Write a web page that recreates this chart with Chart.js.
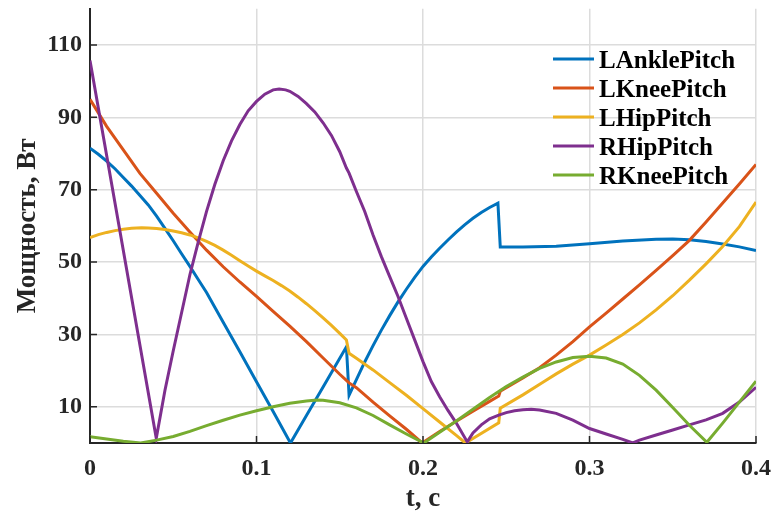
<!DOCTYPE html>
<html>
<head>
<meta charset="utf-8">
<script src="https://cdn.jsdelivr.net/npm/chart.js@4/dist/chart.umd.min.js"></script>
<style>
  html, body { margin: 0; padding: 0; background: #ffffff; }
  canvas { display: block; }
</style>
</head>
<body>
<canvas id="moshch" width="774" height="515"></canvas>
<script>
// names of the joints (legend order)
const seriesNames = ["LAnklePitch", "LKneePitch", "LHipPitch", "RHipPitch", "RKneePitch"];
const seriesColors = ["#0072BD", "#D95319", "#EDB120", "#7E2F8E", "#77AC30"];

const xTicks = [0, 0.1, 0.2, 0.3, 0.4];
const xTickLabels = ["0", "0.1", "0.2", "0.3", "0.4"];
const yTicks = [10, 30, 50, 70, 90, 110];
const yTickLabels = ["10", "30", "50", "70", "90", "110"];

// LAnklePitch
const tAnkle = [0, 0.005, 0.01, 0.015, 0.02, 0.025, 0.03, 0.035, 0.04, 0.045, 0.05, 0.055,
  0.06, 0.065, 0.07, 0.08, 0.09, 0.1, 0.11, 0.1204, 0.13, 0.14, 0.154, 0.1556, 0.16, 0.165,
  0.17, 0.175, 0.18, 0.185, 0.19, 0.195, 0.2, 0.205, 0.21, 0.215, 0.22, 0.225, 0.23, 0.235,
  0.24, 0.245, 0.2464, 0.26, 0.28, 0.3, 0.32, 0.34, 0.35, 0.36, 0.37, 0.38, 0.39, 0.4];
const pAnkle = [81.5, 79.8, 77.9, 75.8, 73.4, 71, 68.4, 65.8, 62.7, 59.3, 55.9, 52.3,
  48.8, 45.2, 41.6, 33.4, 25.2, 16.9, 8.7, 0, 7.6, 15.5, 26.6, 13.2, 17.5, 22.4,
  26.9, 31.2, 35.2, 39, 42.5, 45.8, 48.8, 51.4, 53.8, 56.1, 58.3, 60.3, 62.1, 63.7,
  65.1, 66.3, 54.2, 54.2, 54.4, 55.1, 55.8, 56.3, 56.4, 56.2, 55.7, 55, 54.2, 53.2];

// LKneePitch
const tKnee = [0, 0.01, 0.02, 0.03, 0.04, 0.05, 0.06, 0.07, 0.08, 0.09, 0.1, 0.11, 0.12,
  0.13, 0.14, 0.15, 0.154, 0.1556, 0.16, 0.17, 0.18, 0.19, 0.1995, 0.21, 0.22, 0.23, 0.24,
  0.2455, 0.2464, 0.26, 0.27, 0.28, 0.29, 0.3, 0.31, 0.32, 0.33, 0.34, 0.35, 0.36, 0.37,
  0.38, 0.39, 0.4];
const pKnee = [95, 87.5, 81, 74.5, 69, 63.5, 58.3, 53.3, 48.7, 44.5, 40.5, 36.4, 32.3,
  28, 23.5, 19, 17.3, 16.6, 15.3, 11.3, 7.5, 3.8, 0, 3.2, 6, 8.8, 11.5,
  13, 14.3, 18, 20.8, 24.3, 28, 32.1, 35.9, 39.8, 43.7, 47.7, 51.8, 56, 61.1,
  66.3, 71.6, 77];

// LHipPitch
const tHip = [0, 0.005, 0.01, 0.015, 0.02, 0.025, 0.031, 0.035, 0.04, 0.045, 0.05, 0.055,
  0.06, 0.065, 0.07, 0.075, 0.08, 0.085, 0.09, 0.095, 0.1, 0.105, 0.11, 0.115, 0.12, 0.125,
  0.13, 0.135, 0.14, 0.145, 0.15, 0.154, 0.1556, 0.16, 0.17, 0.18, 0.19, 0.2, 0.21, 0.22,
  0.2255, 0.2455, 0.2464, 0.26, 0.2725, 0.28, 0.29, 0.3, 0.31, 0.32, 0.33, 0.34, 0.35,
  0.36, 0.37, 0.38, 0.39, 0.4];
const pHip = [56.8, 57.6, 58.2, 58.7, 59.1, 59.35, 59.5, 59.45, 59.3, 59, 58.6, 58.1,
  57.5, 56.7, 55.7, 54.6, 53.3, 51.9, 50.4, 48.9, 47.5, 46.2, 44.9, 43.5, 42, 40.3,
  38.5, 36.6, 34.6, 32.5, 30.3, 28.5, 24.8, 23.4, 20.2, 16.7, 13.2, 9.5, 5.8, 2.1,
  0, 5.6, 9.6, 13.3, 16.9, 19.1, 21.8, 24.3, 27.1, 30, 33.2, 36.8, 40.7,
  45, 49.5, 54.3, 59.8, 66.6];

// RHipPitch
const tRHip = [0, 0.0398, 0.045, 0.05, 0.055, 0.06, 0.065, 0.07, 0.075, 0.08, 0.085, 0.09,
  0.095, 0.1, 0.105, 0.11, 0.1136, 0.1175, 0.12, 0.125, 0.13, 0.135, 0.14, 0.145, 0.15,
  0.154, 0.1556, 0.16, 0.165, 0.17, 0.175, 0.18, 0.185, 0.19, 0.195, 0.2, 0.205, 0.21,
  0.215, 0.22, 0.2266, 0.23, 0.235, 0.24, 0.2455, 0.25, 0.255, 0.26, 0.265, 0.27, 0.28,
  0.29, 0.3, 0.31, 0.32, 0.326, 0.33, 0.34, 0.35, 0.36, 0.37, 0.38, 0.39, 0.4];
const pRHip = [105.7, 1.3, 14.5, 25.5, 36, 46.5, 55.5, 64, 71.5, 78, 83.5, 88,
  91.8, 94.4, 96.4, 97.6, 97.8, 97.6, 97.2, 95.8, 93.8, 91.5, 88.5, 85, 80.5,
  76, 74.6, 69.5, 64, 57.5, 51.5, 46, 40.5, 34.5, 28.5, 22.5, 17, 12.8,
  9, 5.5, 0.3, 2.8, 5, 6.7, 7.7, 8.4, 8.9, 9.2, 9.3, 9.1, 8.2,
  6.3, 4, 2.5, 1, 0, 0.8, 2.2, 3.6, 5, 6.4, 8.2, 11.3, 15.4];

// RKneePitch
const tRKnee = [0, 0.01, 0.02, 0.0304, 0.04, 0.05, 0.06, 0.07, 0.08, 0.09, 0.1, 0.11, 0.12,
  0.13, 0.1364, 0.14, 0.15, 0.16, 0.17, 0.18, 0.19, 0.2005, 0.21, 0.22, 0.23, 0.24, 0.25,
  0.26, 0.27, 0.28, 0.29, 0.3, 0.31, 0.32, 0.33, 0.34, 0.35, 0.36, 0.3705, 0.38, 0.39, 0.4];
const pRKnee = [1.7, 1.1, 0.5, 0, 0.8, 1.8, 3.2, 4.8, 6.3, 7.7, 8.9, 10, 11,
  11.6, 11.9, 11.8, 11.1, 9.7, 7.6, 5, 2.5, 0, 3, 6.1, 9.3, 12.6, 15.6,
  18.2, 20.6, 22.4, 23.6, 24, 23.5, 21.8, 18.7, 14.6, 9.8, 4.9, 0.2, 5.5, 11.3, 17.1];

const seriesT = [tAnkle, tKnee, tHip, tRHip, tRKnee];
const seriesP = [pAnkle, pKnee, pHip, pRHip, pRKnee];

const FONT = "'Liberation Serif', 'Times New Roman', serif";
const AXIS_COLOR = "#262626";

// inward tick marks, like the original plot
const plugin_ticks_in = {
  id: "ticksIn",
  afterDraw: (chart) => {
    const ctx = chart.ctx;
    const xs = chart.scales.x;
    const ys = chart.scales.y;
    const area = chart.chartArea;
    ctx.save();
    ctx.strokeStyle = AXIS_COLOR;
    ctx.lineWidth = 1.5;
    ctx.beginPath();
    xTicks.forEach((v) => {
      const px = xs.getPixelForValue(v);
      ctx.moveTo(px, area.bottom);
      ctx.lineTo(px, area.bottom - 7);
    });
    yTicks.forEach((v) => {
      const py = ys.getPixelForValue(v);
      ctx.moveTo(area.left, py);
      ctx.lineTo(area.left + 7, py);
    });
    ctx.stroke();
    ctx.restore();
  },
};

// legend inside the plot, top right, no box
const plugin_leyenda = {
  id: "leyendaDentro",
  afterDraw: (chart) => {
    const ctx = chart.ctx;
    const right = chart.chartArea.right;
    ctx.save();
    ctx.font = "bold 25px " + FONT;
    ctx.textAlign = "left";
    ctx.textBaseline = "alphabetic";
    chart.data.datasets.forEach((ds, i) => {
      const y = 59 + i * 29;
      ctx.strokeStyle = ds.borderColor;
      ctx.lineWidth = 3;
      ctx.beginPath();
      ctx.moveTo(right - 203, y);
      ctx.lineTo(right - 162, y);
      ctx.stroke();
      ctx.fillStyle = "#000000";
      ctx.fillText(ds.label, right - 157, y + 9);
    });
    ctx.restore();
  },
};

const datasets = seriesNames.map((name, i) => ({
  label: name,
  data: seriesT[i].map((t, k) => ({ x: t, y: seriesP[i][k] })),
  borderColor: seriesColors[i],
  backgroundColor: seriesColors[i],
  borderWidth: 3,
  pointRadius: 0,
  tension: 0,
  fill: false,
  order: seriesNames.length - i,
}));

const ctx = document.getElementById("moshch").getContext("2d");
const chart_moshch = new Chart(ctx, {
  type: "line",
  data: { datasets: datasets },
  options: {
    responsive: false,
    animation: false,
    devicePixelRatio: 1,
    layout: { padding: { left: 0, right: 18, top: 8.8, bottom: 0 } },
    plugins: {
      legend: { display: false },
      tooltip: { enabled: false },
    },
    scales: {
      x: {
        type: "linear",
        min: 0,
        max: 0.4,
        afterBuildTicks: (scale) => {
          scale.ticks = xTicks.map((v) => ({ value: v }));
        },
        afterFit: (scale) => {
          scale.height = 72;
          scale.paddingLeft = 0;
          scale.paddingRight = 0;
        },
        grid: { color: "#dcdcdc", lineWidth: 1.5, drawTicks: false },
        border: { display: true, color: AXIS_COLOR, width: 2 },
        ticks: {
          padding: 11,
          color: AXIS_COLOR,
          font: { family: FONT, size: 24, weight: "bold" },
          maxRotation: 0,
          callback: (value, index) => xTickLabels[index],
        },
        title: {
          display: true,
          text: "t, c",
          color: AXIS_COLOR,
          font: { family: FONT, size: 27, weight: "bold" },
          padding: { top: 0, bottom: 0 },
        },
      },
      y: {
        min: 0,
        max: 120,
        afterBuildTicks: (scale) => {
          scale.ticks = yTicks.map((v) => ({ value: v }));
        },
        afterFit: (scale) => {
          scale.width = 90;
          scale.paddingTop = 0;
          scale.paddingBottom = 0;
        },
        grid: { color: "#dcdcdc", lineWidth: 1.5, drawTicks: false },
        border: { display: true, color: AXIS_COLOR, width: 2 },
        ticks: {
          padding: 8,
          color: AXIS_COLOR,
          font: { family: FONT, size: 24, weight: "bold" },
          callback: (value, index) => yTickLabels[index],
        },
        title: {
          display: true,
          text: "Мощность, Вт",
          color: AXIS_COLOR,
          font: { family: FONT, size: 27, weight: "bold" },
          padding: { top: 12, bottom: 0 },
        },
      },
    },
  },
  plugins: [plugin_ticks_in, plugin_leyenda],
});
</script>
</body>
</html>
